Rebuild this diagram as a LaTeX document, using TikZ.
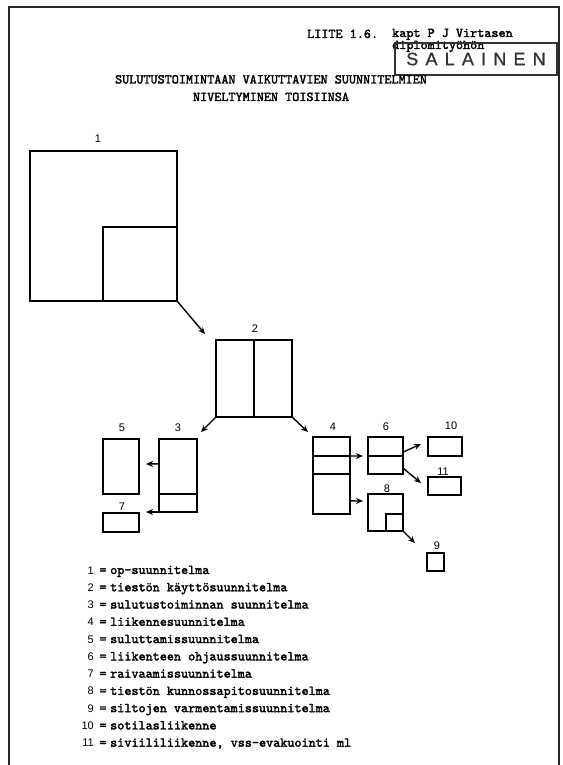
\documentclass[tikz,border=0pt]{standalone}
\usepackage{fontspec}
\newfontfamily\numfont{Liberation Sans}
\newfontfamily\stampfont[LetterSpace=40, FakeBold=1]{Liberation Sans}
\newfontfamily\twfont[FakeBold=2.2]{lmmono10-regular.otf}
\usetikzlibrary{arrows.meta, positioning, calc}

\begin{document}
\begin{tikzpicture}[
    x=1pt, y=-1pt, >={Stealth[length=7pt, width=6pt]},
    box/.style={draw, line width=1.5pt, inner sep=0pt, outer sep=0pt, anchor=north west},
    divider/.style={line width=1.5pt},
    num/.style={font=\numfont\fontsize{11}{13}\selectfont, inner sep=0pt},
    tw/.style={font=\twfont\fontsize{13.5}{17}\selectfont, inner sep=0pt},
    conn/.style={->, line width=1.4pt},
]
    \useasboundingbox (0,0) rectangle (562,765);
    \draw[line width=1.8pt, black!85] (9,765) -- (9,7) -- (559,7) -- (559,765);

    % header and stamp
    \node[tw, anchor=base west] (liite) at (307,38) {LIITE 1.6.};
    \node[tw, anchor=base west] (kapt) at (392,37) {kapt P J Virtasen};
    \node[tw, anchor=base west] (dipl) at (392,49) {diplomityöhön};
    \node[draw, line width=1.4pt, black!80, minimum width=162pt, minimum height=32pt,
          font=\stampfont\fontsize{18}{20}\selectfont] (stamp) at (476,59) {SALAINEN};
    \node[tw, anchor=base] (title1) at (271,83.5) {SULUTUSTOIMINTAAN VAIKUTTAVIEN SUUNNITELMIEN};
    \node[tw, anchor=base] (title2) at (271,101) {NIVELTYMINEN TOISIINSA};

    % boxes
    \node[box, minimum width=147pt, minimum height=150pt] (b1) at (30,151) {};
    \node[box, anchor=south east, minimum width=74pt, minimum height=74pt] (b1i) at (b1.south east) {};
    \node[box, minimum width=76pt, minimum height=77pt] (b2) at (216,340) {};
    \draw[divider] (b2.north) -- (b2.south);
    \node[box, minimum width=38pt, minimum height=73pt] (b3) at (159,439) {};
    \draw[divider] ($(b3.north west)!.75!(b3.south west)$) -- ($(b3.north east)!.75!(b3.south east)$);
    \node[box, minimum width=36pt, minimum height=55pt] (b5) at (103,439) {};
    \node[box, minimum width=36pt, minimum height=19pt] (b7) at (103,513) {};
    \node[box, minimum width=37pt, minimum height=77pt] (b4) at (313,437) {};
    \draw[divider] ($(b4.north west)!.247!(b4.south west)$) -- ($(b4.north east)!.247!(b4.south east)$);
    \draw[divider] ($(b4.north west)!.48!(b4.south west)$) -- ($(b4.north east)!.48!(b4.south east)$);
    \node[box, minimum width=35pt, minimum height=37pt] (b6) at (368,437) {};
    \draw[divider] ($(b6.north west)!.514!(b6.south west)$) -- ($(b6.north east)!.514!(b6.south east)$);
    \node[box, minimum width=35pt, minimum height=37pt] (b8) at (368,494) {};
    \node[box, anchor=south east, minimum width=17pt, minimum height=17pt] (b8i) at (b8.south east) {};
    \node[box, minimum width=34pt, minimum height=19pt] (b10) at (428,437) {};
    \node[box, minimum width=33pt, minimum height=18pt] (b11) at (428,477) {};
    \node[box, minimum width=17pt, minimum height=18pt] (b9) at (427,553) {};

    % numbers
    \node[num] (n1) at (98,139) {1};
    \node[num] (n2) at (255,329) {2};
    \node[num] (n3) at (178,428) {3};
    \node[num] (n5) at (122,428) {5};
    \node[num] (n7) at (122,507) {7};
    \node[num] (n4) at (333,427) {4};
    \node[num] (n6) at (386,427) {6};
    \node[num] (n10) at (451,426) {10};
    \node[num] (n11) at (443,472) {11};
    \node[num] (n8) at (387,489) {8};
    \node[num] (n9) at (437,546) {9};

    % connectors
    \coordinate (t12) at (205,334);
    \coordinate (t23) at (201,432);
    \coordinate (t24) at (308,432);
    \coordinate (t35) at (146,464);
    \coordinate (t37) at (146,512);
    \coordinate (t46) at (363,456);
    \coordinate (t48) at (363,501);
    \coordinate (t610) at (421,444);
    \coordinate (t611) at (421,483);
    \coordinate (t89) at (415,543);
    \draw[conn] (b1.south east) -- (t12);
    \draw[conn] (b2.south west) -- (t23);
    \draw[conn] (b2.south east) -- (t24);
    \draw[conn] ($(b3.north west)!.34!(b3.south west)$) -- (t35);
    \draw[conn] (b3.south west) -- (t37);
    \draw[conn] ($(b4.north east)!.247!(b4.south east)$) -- (t46);
    \draw[conn] ($(b4.north east)!.83!(b4.south east)$) -- (t48);
    \draw[conn] ($(b6.north east)!.41!(b6.south east)$) -- (t610);
    \draw[conn] ($(b6.north east)!.84!(b6.south east)$) -- (t611);
    \draw[conn] (b8.south east) -- (t89);

    % legend
    \foreach \n/\t [count=\i from 0] in {1/op-suunnitelma, 2/tiestön käyttösuunnitelma,
        3/sulutustoiminnan suunnitelma, 4/liikennesuunnitelma, 5/suluttamissuunnitelma,
        6/liikenteen ohjaussuunnitelma, 7/raivaamissuunnitelma,
        8/tiestön kunnossapitosuunnitelma, 9/siltojen varmentamissuunnitelma,
        10/sotilasliikenne, 11/{siviililiikenne, vss-evakuointi ml}} {
        \node[num, anchor=base east] (k\n) at (94, 574+17.27*\i) {\n};
        \node[tw, anchor=base] (e\n) at (103, 574+17.27*\i) {=};
        \node[tw, anchor=base west] (d\n) at (110, 574+17.27*\i) {\t};
    }
\end{tikzpicture}
\end{document}
